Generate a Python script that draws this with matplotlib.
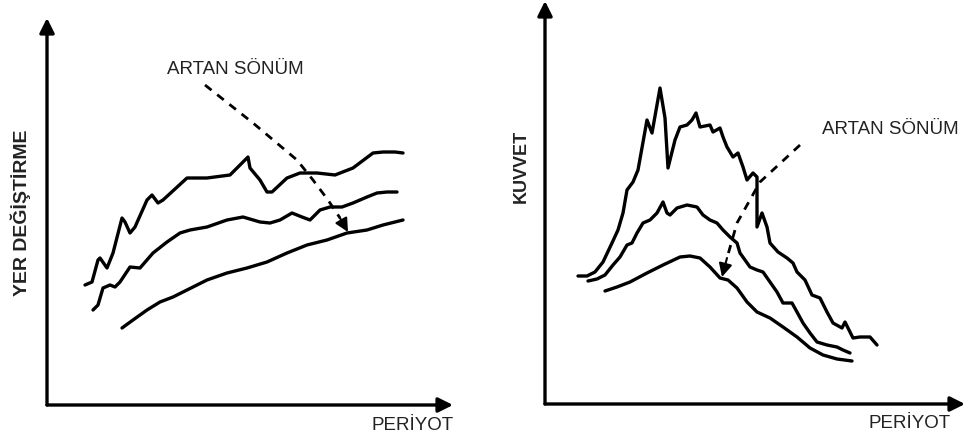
import matplotlib.pyplot as plt
import numpy as np

plt.rcParams['font.family'] = ['Liberation Sans', 'DejaVu Sans']

# Left panel: displacement vs period (three damping levels), schematic units
disp_hi_x = [85, 92, 98, 100, 107, 113, 122, 125, 130, 135, 147, 152, 158, 163, 187, 207, 230, 248,
             250, 260, 267, 272, 287, 300, 317, 335, 353, 373, 383, 395, 403]
disp_hi_y = [285, 282, 260, 258, 268, 253, 218, 222, 233, 227, 200, 195, 203, 200, 178, 178, 175, 157,
             168, 180, 192, 192, 178, 173, 173, 175, 168, 153, 152, 152, 153]
disp_mid_x = [93, 98, 103, 110, 115, 120, 130, 140, 153, 167, 180, 190, 207, 227, 243, 260, 270, 280,
              292, 302, 310, 320, 330, 342, 353, 367, 377, 387, 397]
disp_mid_y = [310, 305, 288, 285, 287, 282, 267, 268, 253, 242, 233, 230, 227, 220, 217, 222, 223, 220,
              213, 217, 220, 210, 207, 207, 203, 197, 193, 192, 192]
disp_lo_x = [122, 133, 147, 160, 173, 187, 207, 227, 247, 267, 287, 307, 327, 347, 367, 383, 403]
disp_lo_y = [328, 320, 310, 302, 297, 290, 280, 273, 268, 262, 253, 245, 240, 233, 230, 225, 220]

# Right panel: force vs period
force_hi_x = [578, 587, 595, 603, 612, 618, 623, 627, 633, 638, 647, 652, 660, 665, 668, 675, 680, 687,
              692, 696, 700, 710, 713, 720, 723, 727, 733, 738, 743, 747, 753, 757, 757, 762, 767, 770,
              778, 787, 793, 797, 805, 812, 820, 827, 833, 842, 845, 853, 860, 870, 877]
force_hi_y = [276, 276, 272, 262, 243, 230, 213, 190, 182, 170, 120, 133, 88, 118, 168, 140, 127, 125,
              120, 113, 127, 125, 132, 128, 137, 147, 157, 153, 167, 180, 173, 177, 227, 213, 227, 243,
              252, 258, 263, 272, 280, 295, 298, 312, 323, 328, 322, 338, 337, 337, 345]
force_mid_x = [588, 597, 605, 613, 620, 627, 632, 637, 643, 650, 657, 663, 667, 670, 677, 687, 697, 703,
               710, 717, 723, 730, 737, 740, 745, 750, 757, 763, 770, 777, 783, 792, 797, 803, 810, 817,
               827, 837, 843, 850]
force_mid_y = [281, 279, 275, 265, 257, 245, 243, 233, 223, 220, 213, 202, 213, 215, 208, 205, 207, 215,
               220, 223, 230, 237, 243, 253, 260, 267, 270, 272, 282, 292, 303, 303, 312, 323, 333, 342,
               345, 347, 350, 353]
force_lo_x = [605, 617, 630, 647, 663, 680, 690, 700, 710, 720, 728, 737, 747, 757, 770, 783, 797, 810,
              823, 837, 852]
force_lo_y = [291, 287, 282, 273, 265, 257, 256, 258, 267, 278, 280, 288, 302, 312, 318, 327, 337, 348,
              355, 359, 361]

# "increasing damping" indicator paths
damp_left_x = [205, 253, 297, 313, 328, 340]
damp_left_y = [85, 123, 160, 180, 200, 218]
damp_right_x = [800, 760, 737, 727]
damp_right_y = [145, 182, 223, 258]

fig = plt.figure(figsize=(9.65, 4.41), dpi=100)
ax = fig.add_axes([0, 0, 1, 1])
ax.set_xlim(0, 965)
ax.set_ylim(441, 0)
ax.axis('off')

LW = 2.4
arrow_kw = dict(arrowstyle='-|>', lw=LW, color='black', mutation_scale=22, shrinkA=0, shrinkB=0)

# axes with arrow heads
for origin, xtip, ytip in [((47, 405), (453, 405), (47, 18)), ((545, 404), (965, 404), (545, 1))]:
    ax.annotate('', xy=xtip, xytext=origin, arrowprops=arrow_kw)
    ax.annotate('', xy=ytip, xytext=origin, arrowprops=arrow_kw)

for xs, ys in [(disp_hi_x, disp_hi_y), (disp_mid_x, disp_mid_y), (disp_lo_x, disp_lo_y),
               (force_hi_x, force_hi_y), (force_mid_x, force_mid_y), (force_lo_x, force_lo_y)]:
    ax.plot(xs, ys, color='black', lw=LW, solid_joinstyle='round', solid_capstyle='round')

# dashed arrows
for xs, ys, tip in [(damp_left_x, damp_left_y, (348, 232)), (damp_right_x, damp_right_y, (722, 277))]:
    ax.plot(xs, ys, color='black', lw=2.0, linestyle=(0, (3, 2.6)))
    ax.annotate('', xy=tip, xytext=(xs[-1], ys[-1]),
                arrowprops=dict(arrowstyle='-|>', lw=1.5, color='black', mutation_scale=20,
                                shrinkA=0, shrinkB=0))

txt = dict(color='#222222', fontsize=13.5)
ax.text(235, 70, 'ARTAN SÖNÜM', ha='center', va='center', **txt)
ax.text(890, 129, 'ARTAN SÖNÜM', ha='center', va='center', **txt)
ax.text(413, 425, 'PERİYOT', ha='center', va='center', **txt)
ax.text(910, 423, 'PERİYOT', ha='center', va='center', **txt)
ax.text(21, 213, 'YER DEĞİŞTİRME', ha='center', va='center', rotation=90,
        fontsize=14, fontweight='bold', color='#222222')
ax.text(521, 166, 'KUVVET', ha='center', va='center', rotation=90,
        fontsize=13, fontweight='bold', color='#222222')

fig.savefig('out.png', dpi=100)
